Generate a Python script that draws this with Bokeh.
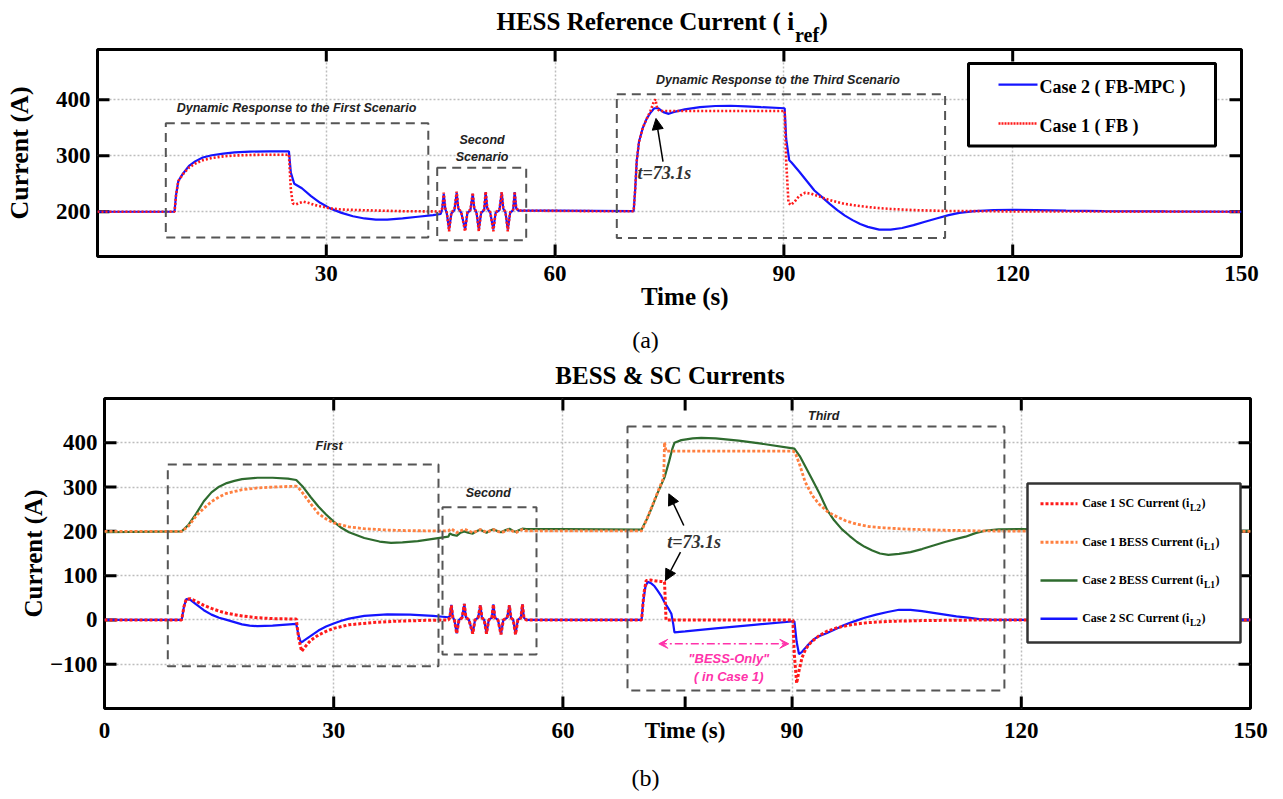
import math
from bokeh.plotting import figure
from bokeh.layouts import column, row
from bokeh.models import (Range1d, FixedTicker, LinearAxis, Label, BoxAnnotation,
                          Arrow, NormalHead, VeeHead)
from bokeh.embed import file_html
from bokeh.resources import INLINE

# ---------------- ticks ----------------
x_ticks_a = [30, 60, 90, 120, 150]
y_ticks_a = [200, 300, 400]
x_ticks_b = [0, 30, 60, 90, 120, 150]
y_ticks_b = [-100, 0, 100, 200, 300, 400]

# ---------------- (a) HESS reference current ----------------
iref_case2 = [(0, 200), (10.1, 200), (10.3, 230), (10.6, 255), (11.2, 268), (12.0, 282), (12.8, 290),
              (13.8, 297), (15.0, 301), (16.5, 304), (18.0, 306), (20.0, 307.5), (22.5, 308), (25.1, 308),
              (25.35, 270), (25.8, 250), (26.8, 242), (28.0, 228), (29.2, 216), (30.5, 206), (32.0, 198),
              (33.5, 192), (35.0, 188), (36.5, 186), (38.0, 186), (40.0, 188), (42.0, 191), (44.0, 194),
              (45.0, 196),
              (45.2, 205), (45.4, 232), (45.6, 205), (45.8, 197), (46.1, 168), (46.4, 197),
              (46.8, 203), (47.1, 234), (47.3, 206), (47.7, 198), (48.2, 168), (48.5, 198),
              (48.9, 203), (49.2, 232), (49.4, 206), (49.7, 198), (50.0, 168), (50.3, 198),
              (50.7, 203), (50.9, 235), (51.1, 206), (51.5, 198), (51.9, 168), (52.2, 198),
              (52.7, 203), (53.0, 234), (53.2, 206), (53.5, 198), (53.8, 168), (54.1, 198),
              (54.5, 203), (54.7, 235), (54.9, 206), (55.2, 202),
              (60, 202), (65, 201.5), (70.3, 201), (70.5, 240), (70.7, 290), (71.0, 325), (71.5, 350),
              (72.0, 366), (72.5, 377), (73.0, 385), (73.5, 385), (74.2, 378), (74.9, 375), (75.5, 378),
              (77, 383), (79, 387), (81, 389), (83, 389.5), (85, 388.5), (87, 387), (90.1, 385),
              (90.3, 330), (90.7, 292), (91.0, 288), (92, 272), (93, 255), (94, 238), (95, 226),
              (96, 214), (97, 203), (98, 193), (99, 185), (100, 178), (101, 173), (102.5, 168),
              (104, 168), (105.5, 171), (107, 176), (108.5, 182), (110, 188), (111.6, 194), (113, 198),
              (115, 201), (117.5, 203), (120, 203.5), (123, 203), (127, 202), (132, 201), (140, 200.5),
              (150, 200)]

iref_case1 = [(0, 200), (10.1, 200), (10.3, 230), (10.6, 255), (11.2, 267), (12.0, 279), (12.8, 286),
              (13.8, 292), (15.0, 296), (16.5, 299), (18.0, 300.5), (20.0, 301.5), (22.5, 302), (25.1, 302),
              (25.35, 240), (25.6, 215), (26.0, 213), (26.5, 216), (27.0, 218), (27.6, 216), (28.5, 212),
              (29.5, 209), (30.5, 206), (32.0, 204), (34.0, 203), (37.0, 202), (40.0, 201), (45.0, 200.5),
              (45.2, 206), (45.4, 234), (45.6, 206), (45.8, 199), (46.1, 165), (46.4, 199),
              (46.8, 204), (47.1, 236), (47.3, 207), (47.7, 199), (48.2, 165), (48.5, 199),
              (48.9, 204), (49.2, 234), (49.4, 207), (49.7, 199), (50.0, 165), (50.3, 199),
              (50.7, 204), (50.9, 236), (51.1, 207), (51.5, 199), (51.9, 165), (52.2, 199),
              (52.7, 204), (53.0, 235), (53.2, 207), (53.5, 199), (53.8, 165), (54.1, 199),
              (54.5, 204), (54.7, 236), (54.9, 207), (55.2, 202),
              (60, 201.5), (65, 201), (70.3, 201), (70.5, 240), (70.7, 290), (71.0, 325), (71.5, 350),
              (72.0, 366), (72.5, 380), (72.9, 395), (73.15, 401), (73.4, 384), (73.7, 380), (80, 380),
              (90.1, 380), (90.3, 290), (90.6, 216), (90.9, 212), (91.4, 218), (92.0, 228), (92.8, 234),
              (93.6, 232), (94.5, 228), (95.5, 223), (96.5, 219), (98, 214), (100, 210), (102, 207),
              (104, 205), (107, 203), (111, 201.5), (116, 201), (120, 200.5), (150, 200)]

# ---------------- (b) BESS & SC currents ----------------
sc_case1 = [(0, 0), (10.1, 0), (10.4, 30), (10.7, 47), (11.2, 48), (12, 42), (13, 33), (14, 26), (15, 20),
            (16, 15), (18, 9), (20, 5), (22, 3), (25.1, 2), (25.4, -40), (25.8, -71), (26.2, -62), (27, -46),
            (28, -34), (29, -26), (30, -19), (32, -11), (35, -6), (38, -3), (42, -1), (45.0, 0),
            (45.2, 5), (45.4, 33), (45.6, 5), (45.8, 0), (46.1, -31), (46.4, 0),
            (46.8, 5), (47.1, 36), (47.3, 6), (47.7, 0), (48.2, -31), (48.5, 0),
            (48.9, 5), (49.2, 33), (49.4, 5), (49.7, 0), (50.0, -31), (50.3, 0),
            (50.7, 5), (50.9, 35), (51.1, 5), (51.5, 0), (51.9, -33), (52.2, 0),
            (52.7, 5), (53.0, 33), (53.2, 5), (53.5, 0), (53.8, -33), (54.1, 0),
            (54.5, 5), (54.7, 35), (54.9, 5), (55.2, 0),
            (70.3, 0), (70.6, 60), (70.9, 89), (71.5, 90), (72.2, 88), (72.8, 87), (73.3, 86), (73.5, 0),
            (90.1, 0), (90.3, -80), (90.6, -143), (90.9, -115), (91.3, -85), (91.8, -65), (92.5, -50),
            (93.5, -36), (94.5, -26), (96, -17), (98, -10), (100, -6), (103, -3), (107, -1.5), (112, -0.5),
            (120, 0), (150, 0)]

sc_case2 = [(0, 0), (10.1, 0), (10.4, 30), (10.7, 47), (11.2, 46), (12, 35), (13, 22), (14, 12), (15, 5),
            (16, 0), (17, -5), (18, -10), (19, -13), (20, -14), (22, -13), (25.1, -9), (25.4, -35),
            (25.7, -51), (26, -48), (27, -36), (28, -24), (29, -15), (30, -8), (31, -2), (32, 3), (34, 9),
            (37, 12.5), (40, 12), (43, 9), (45.0, 6),
            (45.2, 8), (45.4, 34), (45.6, 6), (45.8, 0), (46.1, -30), (46.4, 0),
            (46.8, 5), (47.1, 36), (47.3, 6), (47.7, 0), (48.2, -30), (48.5, 0),
            (48.9, 5), (49.2, 33), (49.4, 5), (49.7, 0), (50.0, -30), (50.3, 0),
            (50.7, 5), (50.9, 35), (51.1, 5), (51.5, 0), (51.9, -32), (52.2, 0),
            (52.7, 5), (53.0, 33), (53.2, 5), (53.5, 0), (53.8, -32), (54.1, 0),
            (54.5, 5), (54.7, 35), (54.9, 5), (55.2, 0),
            (70.3, 0), (70.5, 40), (70.8, 75), (71.1, 86), (71.6, 82), (72.0, 76), (72.4, 66), (72.9, 53),
            (73.3, 40), (73.8, 26), (74.2, 14), (74.45, -10), (74.6, -28), (76, -26), (80, -19), (85, -11),
            (90.3, -3), (90.6, -50), (90.9, -77), (91.3, -72), (92.0, -58), (92.8, -44), (93.5, -37),
            (94.5, -30), (95.5, -22), (96.5, -14), (97.5, -7), (98.5, -1), (99.5, 5), (101, 12),
            (102.5, 18), (104, 23), (105.5, 22.5), (107, 20), (108.5, 16), (110, 12), (111.5, 8), (113, 5),
            (114.5, 2), (116, 0.5), (120, 0), (150, 0)]

bess_case1 = [(0, 200), (10.1, 200), (11, 212), (12, 235), (13, 252), (14, 267), (15, 278), (16, 286),
              (18, 294), (20, 298), (22, 300), (25.1, 302), (25.5, 296), (26, 285), (27, 262), (28, 240),
              (29, 228), (30, 219), (32, 210), (34, 206), (37, 203), (40, 201.5), (45, 201),
              (45.4, 206), (46.1, 197), (47.1, 205), (48.2, 197), (49.2, 204), (50.0, 198), (50.9, 204),
              (51.9, 197), (53.0, 204), (53.8, 197), (54.7, 204), (55.2, 201),
              (70.3, 201), (71.0, 228), (71.6, 254), (72.4, 288), (73.2, 322), (73.3, 401), (73.5, 381),
              (90.1, 381), (90.4, 378), (91.0, 350), (91.7, 312), (92.6, 282), (93.5, 262), (94.6, 245),
              (95.5, 236), (97, 224), (98.5, 216), (100, 211), (102, 208), (105, 205), (110, 202.5),
              (115, 201), (120, 200.5), (150, 200)]

bess_case2 = [(0, 198), (10.1, 200), (11, 215), (12, 240), (13, 268), (14, 288), (15, 301), (16, 309),
              (17, 314), (18, 318), (20, 321), (22, 321), (24, 319), (25.1, 316), (26, 300), (27, 277),
              (28, 256), (29, 238), (30, 222), (31, 208), (32, 198), (34, 185), (36, 177), (37.5, 174),
              (39, 175), (41, 178), (43, 183), (45, 188),
              (45.2, 195), (45.6, 192), (46.1, 190), (46.6, 197), (47.1, 200), (47.6, 197), (48.2, 195),
              (48.7, 200), (49.2, 204), (49.7, 199), (50.0, 197), (50.5, 202), (50.9, 205), (51.4, 201),
              (51.9, 198), (52.5, 203), (53.0, 206), (53.5, 201), (53.8, 199), (54.3, 203), (54.7, 206),
              (55.2, 205),
              (60, 205), (70.3, 204), (71.0, 228), (71.6, 252), (72.4, 287), (73.3, 322), (73.9, 358),
              (74.3, 385), (74.6, 400), (75.5, 406), (77, 410), (78.1, 411), (80, 410), (83, 405), (86, 398),
              (90.3, 387), (91.0, 370), (92.6, 318), (93.6, 285), (94.6, 248), (95.5, 225), (96.5, 205),
              (97.5, 190), (98.5, 176), (99.5, 165), (100.5, 157), (101.5, 150), (102.6, 147), (104, 149),
              (105.5, 153), (107, 160), (108.5, 168), (110, 176), (111.5, 183), (112.7, 188), (114, 196),
              (115.4, 202), (117, 204.5), (120, 205), (130, 203), (150, 201)]

legend_a_labels = ["Case 2 ( FB-MPC )", "Case 1 ( FB )"]
legend_b_labels = [("Case 1 SC Current (i", "L2"), ("Case 1 BESS Current (i", "L1"),
                   ("Case 2 BESS Current (i", "L1"), ("Case 2 SC Current (i", "L2")]
time_label = "Time (s)"
current_label = "Current (A)"

# ---------------- styling ----------------
BLUE = "#1414ff"
RED = "#ff1a1a"
ORANGE = "#ff8040"
GREEN = "#2e6b2e"
PINK = "#ff33aa"
GRID = "#bdbdbd"
BOXC = "#555555"
SERIF = "Liberation Serif"
SANS = "Liberation Sans"
BL = 0.32   # correction: rendered alphabetic baseline sits ~0.32 em lower than requested

W = 1283
# canvas geometry (absolute page pixels)
T1_H = 47
A_TOP = T1_H
A_L, A_R, A_T, A_B = 97, 1241, 49, 257
A_H = 312 - A_TOP
T2_TOP, T2_H = 312, 84
B_TOP = T2_TOP + T2_H
B_L, B_R, B_T, B_B = 104, 1250, 398, 708
B_H = 750 - B_TOP
T4_TOP, T4_H = 750, 49


def ax_(cx): return (cx - A_L) * 150.0 / (A_R - A_L)
def ay_(cy): return 120 + (A_B - cy) * 370.0 / (A_B - A_T)
def bx_(cx): return (cx - B_L) * 150.0 / (B_R - B_L)
def by_(cy): return -200 + (B_B - cy) * 700.0 / (B_B - B_T)


# Times bold advance widths (per em)
TB = {' ': .25, '(': .333, ')': .333, '-': .333, '.': .25, '&': .833,
      '0': .5, '1': .5, '2': .5, '3': .5, '7': .5,
      'A': .722, 'B': .667, 'C': .722, 'E': .667, 'F': .611, 'H': .778, 'M': .944, 'P': .611,
      'R': .722, 'S': .556, 'T': .667, 'L': .667,
      'a': .5, 'c': .444, 'e': .444, 'f': .333, 'i': .278, 'n': .556, 'r': .444, 's': .389,
      't': .333, 'u': .556}


def tw(text, size):
    return sum(TB.get(ch, .5) for ch in text) * size


def label(p, x, y, text, size, font=SERIF, style="bold", color="black", align="left",
          baseline="alphabetic", angle=0.0):
    p.add_layout(Label(x=x, y=y, text=text, text_font=font, text_font_style=style,
                       text_font_size=f"{size}px", text_color=color, text_align=align,
                       text_baseline=baseline, angle=angle))


def text_fig(h):
    f = figure(width=W, height=h, x_range=Range1d(0, W), y_range=Range1d(h, 0),
               x_axis_type=None, y_axis_type=None, min_border=0,
               output_backend="svg", toolbar_location=None)
    f.outline_line_color = None
    f.background_fill_color = "white"
    f.border_fill_color = "white"
    return f


def make_fig(h, yr, l, r, t, b):
    p = figure(width=W, height=h, x_range=Range1d(0, 150), y_range=Range1d(*yr),
               min_border_left=l, min_border_right=r, min_border_top=t, min_border_bottom=b,
               output_backend="svg", toolbar_location=None)
    p.outline_line_color = "black"
    p.outline_line_width = 3
    p.background_fill_color = "white"
    p.border_fill_color = "white"
    return p


def style_axes(p, xt, yt, yr, size, ylab_size, ylab_standoff, frame_w, frame_h):
    for ax, ticks in ((p.xaxis[0], xt), (p.yaxis[0], yt)):
        ax.ticker = FixedTicker(ticks=ticks)
        ax.major_tick_line_color = None
        ax.minor_tick_line_color = None
        ax.major_tick_in = 0
        ax.major_tick_out = 0
        ax.axis_line_color = None
        ax.major_label_text_font = SERIF
        ax.major_label_text_font_style = "bold"
        ax.major_label_text_color = "black"
        ax.major_label_text_font_size = f"{size}px"
    p.xaxis[0].major_label_standoff = 9
    p.yaxis[0].major_label_standoff = 7
    p.yaxis[0].axis_label = current_label
    p.yaxis[0].axis_label_text_font = SERIF
    p.yaxis[0].axis_label_text_font_style = "bold"
    p.yaxis[0].axis_label_text_font_size = f"{ylab_size}px"
    p.yaxis[0].axis_label_text_color = "black"
    p.yaxis[0].axis_label_standoff = ylab_standoff
    p.xgrid.ticker = FixedTicker(ticks=xt)
    p.ygrid.ticker = FixedTicker(ticks=yt)
    p.grid.grid_line_color = GRID
    p.grid.grid_line_dash = "2 2"
    p.grid.grid_line_width = 1.5
    # inward tick marks on all four sides (12 px long)
    lx = 12 * 150.0 / frame_w
    ly = 12 * (yr[1] - yr[0]) / frame_h
    inner_x = [t for t in xt if 0 < t < 150]
    inner_y = [t for t in yt if yr[0] < t < yr[1]]
    tk = dict(line_color="black", line_width=3)
    p.segment(x0=inner_x, y0=[yr[0]] * len(inner_x), x1=inner_x, y1=[yr[0] + ly] * len(inner_x), **tk)
    p.segment(x0=inner_x, y0=[yr[1]] * len(inner_x), x1=inner_x, y1=[yr[1] - ly] * len(inner_x), **tk)
    p.segment(x0=[0] * len(inner_y), y0=inner_y, x1=[lx] * len(inner_y), y1=inner_y, **tk)
    p.segment(x0=[150] * len(inner_y), y0=inner_y, x1=[150 - lx] * len(inner_y), y1=inner_y, **tk)


def dash_box(p, l, r, t, b):
    p.add_layout(BoxAnnotation(left=l, right=r, top=t, bottom=b, fill_color=None,
                               line_color=BOXC, line_alpha=1, line_width=2, line_dash="9 6"))


def xs(series): return [pt[0] for pt in series]
def ys(series): return [pt[1] for pt in series]


NOTE = dict(font=SANS, style="bold italic", color="#222222", align="center", baseline="middle")

# ================= title strip (a) =================
t1 = text_fig(T1_H)
title_a_main = "HESS Reference Current ( i"
tx = 496
label(t1, tx, 28.5 - BL * 25, title_a_main, 25)
tx2 = tx + tw(title_a_main, 25)
label(t1, tx2, 41.0 - BL * 20, "ref", 20)
label(t1, tx2 + tw("ref", 20), 28.5 - BL * 25, " )", 25)

# ================= panel (a) =================
p1 = make_fig(A_H, (120, 490), A_L, W - A_R, A_T - A_TOP, A_H - (A_B - A_TOP))
style_axes(p1, x_ticks_a, y_ticks_a, (120, 490), 23, 26, 19, A_R - A_L, A_B - A_T)
tax = LinearAxis(ticker=FixedTicker(ticks=[77]), major_label_overrides={77: time_label},
                 major_tick_line_color=None, minor_tick_line_color=None, axis_line_color=None,
                 major_tick_in=0, major_tick_out=0, major_label_standoff=-1,
                 major_label_text_font=SERIF, major_label_text_font_style="bold",
                 major_label_text_font_size="25px", major_label_text_color="black")
p1.add_layout(tax, "below")

p1.line(xs(iref_case2), ys(iref_case2), line_color=BLUE, line_width=2.2)
p1.line(xs(iref_case1), ys(iref_case1), line_color=RED, line_width=2.6, line_dash="2 2")

dash_box(p1, ax_(165.3), ax_(427.8), ay_(123), ay_(238))
dash_box(p1, ax_(436.7), ax_(525.7), ay_(167.7), ay_(240.7))
dash_box(p1, ax_(616.3), ax_(944.6), ay_(94), ay_(238.3))
label(p1, ax_(296), ay_(107.7), "Dynamic Response to the First Scenario", 12.5, **NOTE)
label(p1, ax_(481.6), ay_(140), "Second", 12.5, **NOTE)
label(p1, ax_(481.6), ay_(157), "Scenario", 12.5, **NOTE)
label(p1, ax_(777.5), ay_(80), "Dynamic Response to the Third Scenario", 12.5, **NOTE)

label(p1, ax_(637), ay_(173.3), "t=73.1s", 18, style="bold italic", color="#333333", baseline="middle")
p1.add_layout(Arrow(end=NormalHead(size=11, fill_color="black", line_color="black"),
                    x_start=ax_(662.5), y_start=ay_(161.7), x_end=ax_(655.5), y_end=ay_(118.3),
                    line_color="black", line_width=1.5))

p1.add_layout(BoxAnnotation(left=ax_(968), right=ax_(1215), top=ay_(63), bottom=ay_(146),
                            fill_color="white", fill_alpha=1, line_color="black", line_alpha=1,
                            line_width=3))
p1.add_layout(Arrow(end=None, x_start=ax_(998), y_start=ay_(84.3), x_end=ax_(1037), y_end=ay_(84.3),
                    line_color=BLUE, line_width=2.2))
p1.add_layout(Arrow(end=None, x_start=ax_(998), y_start=ay_(123.3), x_end=ax_(1037), y_end=ay_(123.3),
                    line_color=RED, line_width=2.6, line_dash="2 1"))
label(p1, ax_(1039), ay_(92.7 - BL * 18), legend_a_labels[0], 18)
label(p1, ax_(1039), ay_(131.7 - BL * 18), legend_a_labels[1], 18)

# ================= strip between panels =================
t2 = text_fig(T2_H)
label(t2, 645, 339 - T2_TOP, "(a)", 24, style="normal", align="center", baseline="middle")
label(t2, 669.5, 383.3 - T2_TOP - BL * 25, "BESS & SC Currents", 25, align="center")

# ================= panel (b) =================
p2 = make_fig(B_H, (-200, 500), B_L, W - B_R, B_T - B_TOP, B_H - (B_B - B_TOP))
style_axes(p2, x_ticks_b + [76], y_ticks_b, (-200, 500), 23, 25, 0, B_R - B_L, B_B - B_T)
p2.xaxis[0].major_label_overrides = {76: time_label}
p2.xgrid.ticker = FixedTicker(ticks=x_ticks_b)

p2.line(xs(bess_case2), ys(bess_case2), line_color=GREEN, line_width=2.2)
p2.line(xs(bess_case1), ys(bess_case1), line_color=ORANGE, line_width=2.8, line_dash="3 2")
p2.line(xs(sc_case2), ys(sc_case2), line_color=BLUE, line_width=2.2)
p2.line(xs(sc_case1), ys(sc_case1), line_color=RED, line_width=3, line_dash="3 2")

dash_box(p2, bx_(167.3), bx_(438), by_(464), by_(665.7))
dash_box(p2, bx_(442), bx_(536), by_(506.7), by_(654))
dash_box(p2, bx_(627), bx_(1003.9), by_(426), by_(690))
label(p2, bx_(328.6), by_(445), "First", 12.5, **NOTE)
label(p2, bx_(487.8), by_(492), "Second", 12.5, **NOTE)
label(p2, bx_(823.2), by_(415), "Third", 12.5, **NOTE)

label(p2, bx_(666.7), by_(541.7), "t=73.1s", 18, style="bold italic", color="#333333", baseline="middle")
p2.add_layout(Arrow(end=NormalHead(size=11, fill_color="black", line_color="black"),
                    x_start=bx_(683.3), y_start=by_(525), x_end=bx_(668.3), y_end=by_(493.3),
                    line_color="black", line_width=1.5))
p2.add_layout(Arrow(end=NormalHead(size=11, fill_color="black", line_color="black"),
                    x_start=bx_(680), y_start=by_(551.7), x_end=bx_(665), y_end=by_(580),
                    line_color="black", line_width=1.5))

p2.add_layout(Arrow(start=VeeHead(size=9, fill_color=PINK, line_color=PINK),
                    end=VeeHead(size=9, fill_color=PINK, line_color=PINK),
                    x_start=bx_(658.3), y_start=by_(643.3), x_end=bx_(788.3), y_end=by_(643.3),
                    line_color=PINK, line_width=1.5, line_dash="8 3 2 3"))
label(p2, bx_(728.3), by_(658.3), "\"BESS-Only\"", 13, font=SANS, style="bold italic", color=PINK,
      align="center", baseline="middle")
label(p2, bx_(728.3), by_(676), "( in Case 1)", 13, font=SANS, style="bold italic", color=PINK,
      align="center", baseline="middle")

p2.add_layout(BoxAnnotation(left=bx_(1027), right=bx_(1240), top=by_(483), bottom=by_(642),
                            fill_color="white", fill_alpha=1, line_color="#333333", line_alpha=1,
                            line_width=2.5))
leg_rows = [503.3, 541.7, 580, 618.3]
leg_styles = [dict(line_color=RED, line_width=3, line_dash="3 2"),
              dict(line_color=ORANGE, line_width=3, line_dash="3 2"),
              dict(line_color=GREEN, line_width=2.5),
              dict(line_color=BLUE, line_width=2.5)]
for (main, sub), cy, st in zip(legend_b_labels, leg_rows, leg_styles):
    p2.add_layout(Arrow(end=None, x_start=bx_(1040), y_start=by_(cy), x_end=bx_(1077), y_end=by_(cy), **st))
    x0 = 1081.7
    label(p2, bx_(x0), by_(cy + 3.5 - BL * 12), main, 12)
    x1 = x0 + tw(main, 12) + 0.5
    label(p2, bx_(x1), by_(cy + 7.5 - BL * 9.5), sub, 9.5)
    label(p2, bx_(x1 + tw(sub, 9.5) + 0.5), by_(cy + 3.5 - BL * 12), ")", 12)

# ================= strip below panel (b) =================
t4 = text_fig(T4_H)
label(t4, 645, 777 - T4_TOP, "(b)", 24, style="normal", align="center", baseline="middle")

layout = column(row(t1), row(p1), row(t2), row(p2), row(t4), spacing=0)
open("out.html", "w").write(file_html(layout, INLINE))
